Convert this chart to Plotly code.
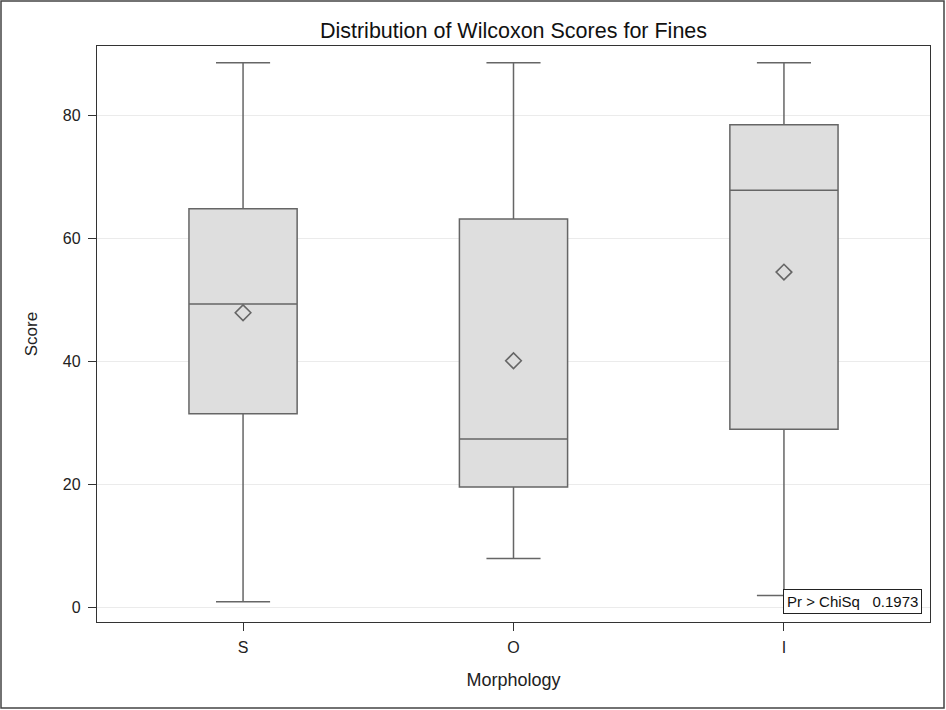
import plotly.graph_objects as go

# ---- data ----
categories = ["S", "O", "I"]
upper_fence = [88.5, 88.5, 88.5]
q3_vals = [64.8, 63.1, 78.4]
medians = [49.3, 27.4, 67.8]
means = [47.9, 40.1, 54.5]
q1_vals = [31.5, 19.6, 29.0]
lower_fence = [1.0, 8.0, 2.0]
y_ticks = [0, 20, 40, 60, 80]
p_value_label = "Pr > ChiSq   0.1973"

W, H = 946, 710
L, R, T, B = 97, 16, 46, 88
pw = W - L - R
ph = H - T - B

font_family = "Liberation Sans, Arial, sans-serif"

fig = go.Figure()
fig.add_trace(go.Box(
    x=categories,
    q1=q1_vals, median=medians, q3=q3_vals,
    lowerfence=lower_fence, upperfence=upper_fence,
    width=0.4, whiskerwidth=0.5,
    fillcolor="#DEDEDE",
    line=dict(color="#666666", width=1.5),
    boxpoints=False, hoverinfo="skip", showlegend=False,
))
fig.add_trace(go.Scatter(
    x=categories, y=means, mode="markers",
    marker=dict(symbol="diamond-open", size=12, color="#666666",
                line=dict(width=1.6, color="#666666")),
    showlegend=False, hoverinfo="skip",
))

fig.update_layout(
    width=W, height=H,
    margin=dict(l=L, r=R, t=T, b=B),
    paper_bgcolor="white", plot_bgcolor="white",
    font=dict(family=font_family, color="#222222", size=15),
    title=dict(text="Distribution of Wilcoxon Scores for Fines",
               x=(L + pw / 2) / W, xanchor="center",
               y=1 - 30 / H, yanchor="middle",
               font=dict(size=21.5, color="#111111")),
    xaxis=dict(
        type="category", range=[-0.54, 2.54],
        showline=True, mirror=True, linecolor="#333333", linewidth=1.3,
        ticks="outside", ticklen=8, tickcolor="#333333", tickwidth=1.3,
        ticklabelstandoff=3,
        showgrid=False, zeroline=False,
        tickfont=dict(size=16),
        title=dict(text="Morphology", font=dict(size=18), standoff=18),
    ),
    yaxis=dict(
        range=[-2.3, 91.2],
        tickvals=y_ticks,
        showline=True, mirror=True, linecolor="#333333", linewidth=1.3,
        ticks="outside", ticklen=8, tickcolor="#333333", tickwidth=1.3,
        ticklabelstandoff=4,
        showgrid=True, gridcolor="#EBEBEB", gridwidth=1,
        zeroline=False,
        tickfont=dict(size=16),
        title=dict(text="Score", font=dict(size=17), standoff=20),
    ),
)

# p-value inset
fig.add_annotation(
    text=p_value_label, xref="paper", yref="paper",
    x=(922 - L) / pw, y=(H - B - 614) / ph,
    xanchor="right", yanchor="bottom", showarrow=False,
    font=dict(size=15, color="#111111"),
    bgcolor="white", bordercolor="#222222", borderwidth=1, borderpad=3,
)

# outer frame of the image
fig.add_shape(
    type="rect", xref="paper", yref="paper",
    x0=(1 - L) / pw, x1=(W - 2 - L) / pw,
    y0=(H - B - (H - 2)) / ph, y1=(H - B - 1) / ph,
    line=dict(color="#444444", width=1.5), fillcolor="rgba(0,0,0,0)",
    layer="below",
)

fig.write_html("out.html")
